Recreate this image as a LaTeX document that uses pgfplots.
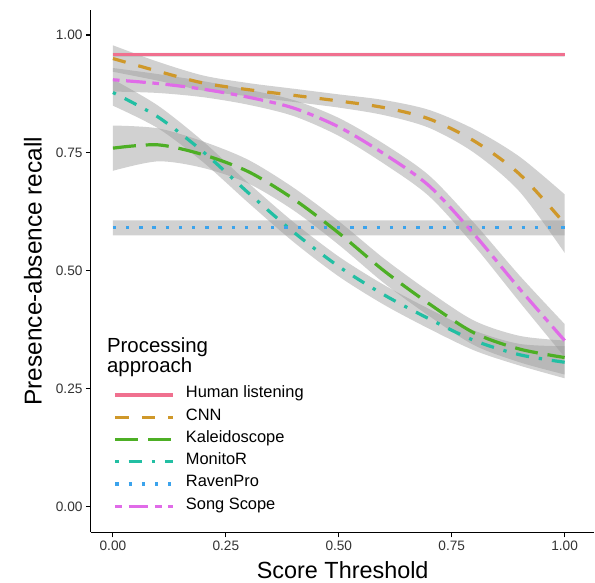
\documentclass[border=0pt]{standalone}
\usepackage{pgfplots}
\pgfplotsset{compat=1.18}
\usepackage{pgfplotstable}
\usepgfplotslibrary{fillbetween}
\usepackage{fontspec}
\setmainfont{Liberation Sans}

\definecolor{chuman}{HTML}{F0708F}
\definecolor{ccnn}{HTML}{CF982A}
\definecolor{ckal}{HTML}{4DAF25}
\definecolor{cmon}{HTML}{22BFA3}
\definecolor{crav}{HTML}{3BA3EC}
\definecolor{csong}{HTML}{E06BE8}

\pgfplotstableread{
t m h
0 0.958 0.004
1 0.958 0.004
}\human
\pgfplotstableread{
t m h
0 0.591 0.016
1 0.591 0.016
}\raven
\pgfplotstableread{
t m h
0 0.950 0.028
0.1 0.923 0.020
0.2 0.898 0.016
0.3 0.884 0.014
0.4 0.872 0.014
0.5 0.860 0.014
0.6 0.846 0.016
0.7 0.822 0.019
0.8 0.775 0.025
0.9 0.705 0.037
1.0 0.600 0.062
}\cnn
\pgfplotstableread{
t m h
0 0.905 0.025
0.1 0.897 0.020
0.2 0.885 0.017
0.3 0.868 0.016
0.4 0.845 0.017
0.5 0.805 0.019
0.6 0.748 0.021
0.7 0.680 0.022
0.8 0.577 0.024
0.9 0.462 0.028
1.0 0.352 0.035
}\song
\pgfplotstableread{
t m h
0 0.760 0.048
0.1 0.767 0.035
0.2 0.746 0.028
0.3 0.710 0.025
0.4 0.652 0.024
0.5 0.580 0.025
0.6 0.500 0.026
0.7 0.430 0.026
0.8 0.368 0.026
0.9 0.334 0.028
1.0 0.316 0.036
}\kal
\pgfplotstableread{
t m h
0 0.878 0.028
0.1 0.826 0.024
0.2 0.752 0.022
0.3 0.665 0.021
0.4 0.582 0.021
0.5 0.509 0.021
0.6 0.449 0.021
0.7 0.398 0.021
0.8 0.352 0.021
0.9 0.322 0.023
1.0 0.306 0.034
}\mon

\newcommand{\ribbon}[2]{%
  \addplot[name path=#2u, draw=none, smooth, forget plot] table[x=t, y expr=\thisrow{m}+\thisrow{h}]{#1};
  \addplot[name path=#2l, draw=none, smooth, forget plot] table[x=t, y expr=\thisrow{m}-\thisrow{h}]{#1};
  \addplot[fill=black!40, fill opacity=0.45, draw=none, forget plot] fill between[of=#2u and #2l];
}

\begin{document}
\begin{tikzpicture}
\begin{axis}[
  scale only axis,
  width=504bp, height=523bp,
  xmin=-0.0487, xmax=1.066,
  ymin=-0.055, ymax=1.053,
  axis x line*=bottom, axis y line*=left,
  axis line style={line width=1.1bp, black},
  tick align=outside,
  major tick length=5bp,
  tick style={line width=1.1bp, black},
  xtick={0,0.25,0.5,0.75,1}, xticklabels={0.00,0.25,0.50,0.75,1.00},
  ytick={0,0.25,0.5,0.75,1}, yticklabels={0.00,0.25,0.50,0.75,1.00},
  /pgf/number format/assume math mode=true,
  ticklabel style={font=\fontsize{13.7}{14}\selectfont, text=black!80},
  xlabel={Score Threshold},
  ylabel={Presence-absence recall},
  xlabel style={font=\fontsize{23.5}{24}\selectfont, at={(rel axis cs:0.5,-0.0727)}, anchor=center},
  ylabel style={font=\fontsize{24.5}{25}\selectfont, at={(rel axis cs:-0.115,0.5)}, anchor=center, rotate=0},
  clip=false,
  legend style={draw=none, fill=none, at={(rel axis cs:0.045,0.285)}, anchor=north west,
    font=\fontsize{16.5}{16.5}\selectfont, row sep=0pt, inner sep=0pt,
    nodes={inner sep=0pt, text height=14bp, text depth=8.3bp},
    column sep=11bp},
  legend cell align=left,
  legend image code/.code={\draw[#1] (0bp,0bp) -- (58bp,0bp);},
]
\path (rel axis cs:-0.1806,-0.0918) rectangle (rel axis cs:1,1.0191);

\ribbon{\human}{hu}
\ribbon{\cnn}{cn}
\ribbon{\kal}{ka}
\ribbon{\mon}{mo}
\ribbon{\raven}{ra}
\ribbon{\song}{so}

\addplot[chuman, line width=3.2bp] table[x=t, y=m]{\human};
\addlegendentry{Human listening}
\addplot[ccnn, line width=3.2bp, smooth, dash pattern=on 13.2bp off 13.2bp] table[x=t, y=m]{\cnn};
\addlegendentry{CNN}
\addplot[ckal, line width=3.2bp, smooth, dash pattern=on 23.1bp off 9.9bp] table[x=t, y=m]{\kal};
\addlegendentry{Kaleidoscope}
\addplot[cmon, line width=3.2bp, smooth, dash pattern=on 3.3bp off 9.9bp on 13.2bp off 9.9bp] table[x=t, y=m]{\mon};
\addlegendentry{MonitoR}
\addplot[crav, line width=3.2bp, dash pattern=on 3.3bp off 9.9bp] table[x=t, y=m]{\raven};
\addlegendentry{RavenPro}
\addplot[csong, line width=3.2bp, smooth, dash pattern=on 6.6bp off 6.6bp on 19.8bp off 6.6bp] table[x=t, y=m]{\song};
\addlegendentry{Song Scope}

\node[anchor=base west, align=left, font=\fontsize{20.5}{19}\selectfont, inner sep=0pt]
  at (rel axis cs:0.0317,0.3059) {Processing\\approach};
\end{axis}
\end{tikzpicture}
\end{document}
